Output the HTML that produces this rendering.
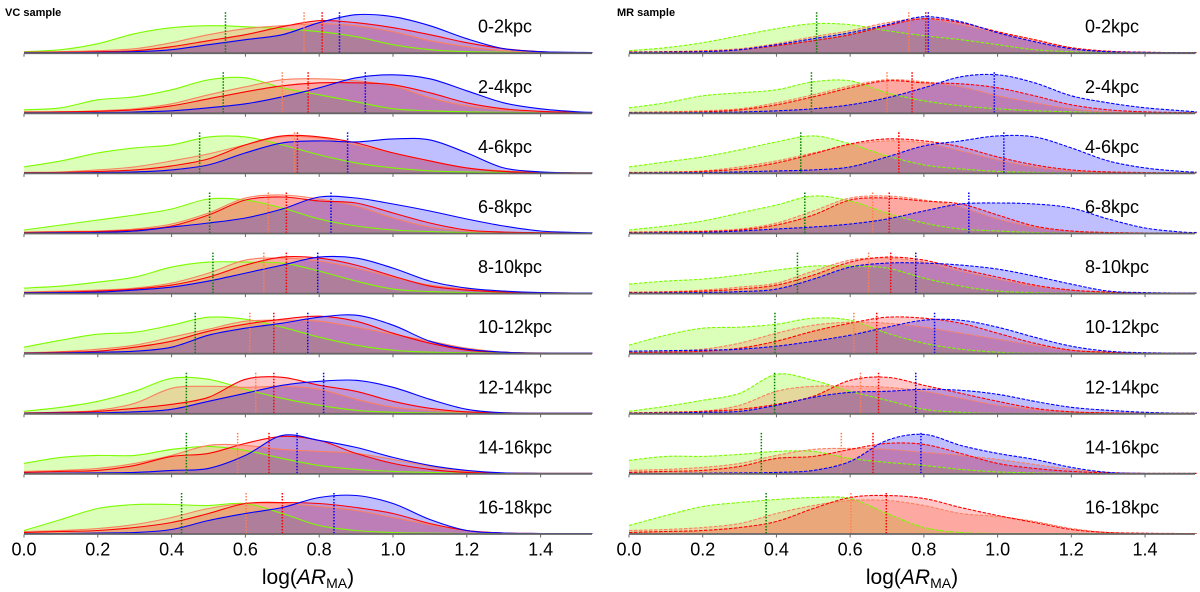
<!DOCTYPE html>
<html><head><meta charset="utf-8">
<style>
html,body{margin:0;padding:0;background:#fff;}
svg{display:block;font-family:"Liberation Sans","DejaVu Sans",sans-serif;}
</style></head>
<body>
<svg id="chart" width="1200" height="592" viewBox="0 0 1200 592" xmlns="http://www.w3.org/2000/svg">
<text x="5" y="16" font-size="11" font-weight="bold">VC sample</text>
<text x="617" y="16" font-size="11" font-weight="bold">MR sample</text>
</svg>
<script>
const xGrid = [0,0.1,0.2,0.3,0.4,0.5,0.6,0.7,0.8,0.9,1.0,1.1,1.2,1.3,1.4,1.5];
const rowLabels = ["0-2kpc","2-4kpc","4-6kpc","6-8kpc","8-10kpc","10-12kpc","12-14kpc","14-16kpc","16-18kpc"];
const tickLabels = ["0.0","0.2","0.4","0.6","0.8","1.0","1.2","1.4"];
const tickValues = [0,0.2,0.4,0.6,0.8,1.0,1.2,1.4];

// VC sample densities (heights in px-units), per row
const vcGreen = [
[1,3,9,19,25,27,26,24,21,16,8,3,1,0.5,0,0],
[3,5,13,16,23,33,35,25,18,11,4,2,1,0.5,0,0],
[6,12,20,25,28,36,36,28,18,10,5,2,1,0.5,0,0],
[3,8,13,18,24,34,33,25,14,7,3,1.5,0.5,0,0,0],
[5,7,11,16,26,31,31,30,22,12,4,1.5,0.5,0,0,0],
[6,13,19,21,28,36,34,26,16,8,3,1,0.5,0,0,0],
[2,6,12,22,35,34,24,15,8,3,1,0.5,0,0,0,0],
[10,16,18,18,24,27,23,15,8,4,2,1,0,0,0,0],
[3,14,25,29,29,28,30,20,8,3,1,0.3,0,0,0,0]];
const vcOrange = [
[0.5,1,2,4,10,18,24,27,29,27,21,12,6,2,0.5,0],
[1,1,2,4,9,18,26,33,34,32,27,15,7,3,1,0],
[0.5,1,3,6,12,19,28,36,35,28,20,12,5,2,0.5,0],
[1,1.5,2,4,9,20,35,38,34,27,15,6,2,0.5,0,0],
[1,2,3,5,10,20,33,35,32,25,16,8,4,1,0.3,0],
[0.5,1.5,4,8,16,24,32,33,32,26,19,12,5,1,0.3,0],
[0.5,1,3,10,25,27,26,27,24,14,6,3,1,0.5,0,0],
[2,3,5,10,18,28,28,24,22,20,14,7,2,0.5,0,0],
[2,3,5,9,16,25,30,30,27,23,16,9,3,0.5,0,0]];
const vcRed = [
[0.3,0.5,1,2,6,12,18,26,32,30,25,18,10,4,1,0],
[0.5,1,1.5,3,7,14,21,27,30,30,28,20,10,4,1.5,0.5],
[0.3,0.5,1.5,3,7,14,28,37,36,30,20,12,5,1.5,0.5,0],
[0.5,1,1.5,3,7,18,33,36,32,30,20,10,3,1,0.3,0],
[0.5,1,2,4,8,16,28,36,35,28,17,7,3,1,0.3,0],
[0.3,1,2,6,12,22,29,34,37,32,20,10,3,1,0,0],
[0.3,1,2,5,9,16,34,36,28,22,12,5,1.5,0.5,0,0],
[1,2,3,8,17,20,30,37,33,20,10,4,1,0.3,0,0],
[1,2,3,6,11,20,30,31,30,26,20,10,3,0.5,0,0]];
const vcBlue = [
[0,0,0.3,1,3,8,13,18,30,38,36,27,14,4,1,0.3],
[0,0,0.3,0.8,2,5,9,16,25,35,38,34,22,10,4,1],
[0,0,0.3,1,3,8,20,30,32,31,34,33,20,5,1,0],
[0,0.3,0.6,2,6,10,15,24,36,35,29,22,14,7,2,0.5],
[0.3,0.5,1,3,6,12,20,28,36,35,25,12,5,2,0.5,0],
[0,0.3,1,2,6,18,25,30,36,38,28,12,4,1,0,0],
[0,0.2,0.5,1.5,4,12,20,28,32,33,26,14,4,0.5,0,0],
[0,0.2,0.5,1,3,5,18,38,33,26,16,8,3,0.5,0,0],
[0,0,0.5,1,4,13,20,26,36,38,30,14,3,0.5,0,0]];
const vcMedGreen = [0.546,0.54,0.476,0.503,0.512,0.464,0.44,0.44,0.427];
const vcMedOrange = [0.759,0.70,0.733,0.662,0.650,0.612,0.628,0.579,0.602];
const vcMedRed = [0.808,0.77,0.741,0.711,0.711,0.677,0.677,0.664,0.70];
const vcMedBlue = [0.855,0.925,0.877,0.832,0.796,0.769,0.812,0.740,0.84];

// MR sample densities
const mrGreen = [
[2,5,10,17,24,29,28,22,17,13,8,3,1,0,0,0],
[5,10,17,20,23,31,32,20,12,7,4,2,1,0,0,0],
[6,11,16,23,31,37,29,17,8,4,1.5,0.5,0,0,0,0],
[3,7,12,20,28,37,32,20,10,4,2,0.5,0,0,0,0],
[9,12,14,18,23,27,27,25,15,7,2,0.5,0,0,0,0],
[8,18,25,26,29,35,33,20,10,4,1,0,0,0,0,0],
[2,7,13,20,39,33,22,13,4,1,0,0,0,0,0,0],
[13,17,17,19,22,22,15,11,8,4,1.5,0.5,0,0,0,0],
[8,18,27,31,34,36,35,20,6,1,0,0,0,0,0,0]];
const mrOrange = [
[1,1,2,4,9,16,22,30,34,28,20,13,5,1.5,0.5,0],
[0.5,1,2,4,10,18,27,33,31,26,17,10,4,1,0.3,0],
[0.5,1,2,6,12,20,28,32,30,22,13,6,2,0.5,0,0],
[1,1.5,2,4,10,22,35,37,33,26,14,6,2,0.5,0,0],
[1,1.5,3,6,10,22,33,35,31,22,14,7,3,1,0,0],
[1,2,4,10,20,28,31,30,26,20,14,8,3,1,0,0],
[0.5,1,2,8,22,27,27,26,22,15,8,4,1.5,0.5,0,0],
[3,4,6,10,18,24,25,24,21,18,14,9,4,1,0,0],
[3,4,6,10,20,28,33,33,28,20,17,12,5,1,0,0]];
const mrRed = [
[0.5,1,1.5,3,7,12,18,27,34,30,21,13,5,1.5,0.5,0],
[0.3,0.5,1,3,8,16,25,32,30,29,25,17,8,3,1,0.3],
[0.3,0.5,1.5,4,10,19,29,34,32,26,16,8,3,1,0.3,0],
[0.5,1,1.5,3,8,18,33,35,32,29,18,7,2,0.5,0,0],
[0.5,1,2,4,8,18,31,36,33,24,16,8,3,1,0,0],
[0.5,1,2,5,12,22,30,36,35,30,20,10,3,1,0,0],
[0.3,1,2,4,9,17,33,36,28,20,12,5,1.5,0.5,0,0],
[1,2,3,7,15,17,24,30,29,20,10,5,2,0.5,0,0],
[1,2,3,6,12,25,36,38,35,26,18,11,4,1,0.3,0]];
const mrBlue = [
[0.3,0.5,1,3,8,14,20,28,36,31,20,11,4,1,0.3,0],
[0,0,0.3,0.8,2,4,8,15,25,36,38,30,17,10,5,2],
[0,0.2,0.4,1,2,3,6,16,27,32,37,36,25,12,5,1.5],
[0,0.3,0.6,2,4,6,9,14,22,29,30,29,25,14,5,1],
[0,0.3,0.6,1.5,4,14,26,30,30,28,24,17,9,2,0.5,0],
[2,2.5,3,4,7,12,18,26,33,33,26,16,7,2,0.5,0],
[0,0.3,1,2,8,16,21,22,24,23,19,12,6,3,1,0],
[0,0,0.2,0.5,1,3,12,33,39,28,20,14,6,1,0,0],
null];
const mrMedGreen = [0.509,0.495,0.466,0.477,0.457,0.396,0.395,0.359,0.372];
const mrMedOrange = [0.759,0.70,0.732,0.661,0.65,0.61,0.628,0.576,0.602];
const mrMedRed = [0.805,0.768,0.732,0.706,0.71,0.672,0.677,0.662,0.698];
const mrMedBlue = [0.812,0.991,1.017,0.922,0.778,0.829,0.778,0.792,null];

const NS = "http://www.w3.org/2000/svg";
const svg = document.getElementById("chart");
const ROW0 = 52.7, ROWSTEP = 60.1, XMAXD = 1.54;
const panels = [
 {name:"vc", x0:24, sc:369, xEnd:592, dashed:false, labelX:478, series:[vcGreen,vcOrange,vcRed,vcBlue], meds:[vcMedGreen,vcMedOrange,vcMedRed,vcMedBlue]},
 {name:"mr", x0:629, sc:368.6, xEnd:1195, dashed:true, labelX:1085, series:[mrGreen,mrOrange,mrRed,mrBlue], meds:[mrMedGreen,mrMedOrange,mrMedRed,mrMedBlue]}
];
const sNames = ["green","orange","red","blue"];
const lineCol = ["#7cfc00","#fa8060","#ff0000","#0000ff"];
const fillCol = ["rgba(124,252,0,0.28)","rgba(250,128,96,0.3)","rgba(255,0,0,0.22)","rgba(0,0,255,0.25)"];
const medCol = ["#008000","#ff7f50","#ff0000","#0000ff"];

function mk(tag, attrs){const e=document.createElementNS(NS,tag);for(const k in attrs)e.setAttribute(k,attrs[k]);return e;}
function rowBase(i){return ROW0+ROWSTEP*i;}

function curvePath(p, vals, base){
  const pts = xGrid.map((x,j)=>[p.x0+p.sc*x, base-vals[j]]);
  pts.push([p.x0+p.sc*XMAXD, base-vals[vals.length-1]*0.5]);
  let d = "M"+pts[0][0]+","+pts[0][1];
  for(let k=0;k<pts.length-1;k++){
    const p0=pts[Math.max(0,k-1)],p1=pts[k],p2=pts[k+1],p3=pts[Math.min(pts.length-1,k+2)];
    const c1=[p1[0]+(p2[0]-p0[0])/6, Math.min(base,p1[1]+(p2[1]-p0[1])/6)];
    const c2=[p2[0]-(p3[0]-p1[0])/6, Math.min(base,p2[1]-(p3[1]-p1[1])/6)];
    d+=" C"+c1[0].toFixed(1)+","+c1[1].toFixed(1)+" "+c2[0].toFixed(1)+","+c2[1].toFixed(1)+" "+p2[0].toFixed(1)+","+p2[1].toFixed(1);
  }
  return {d:d, first:pts[0], last:pts[pts.length-1]};
}

panels.forEach(p=>{
  for(let i=0;i<9;i++){
    const base=rowBase(i);
    const g=mk("g",{});
    
    
    svg.appendChild(g);
    p.series.forEach((ser,s)=>{
      if(!ser[i]) return;
      const c=curvePath(p, ser[i], base);
      const f=mk("path",{d:c.d+" L"+c.last[0]+","+base+" L"+c.first[0]+","+base+" Z", fill:fillCol[s], stroke:"none"});
      
      
      g.appendChild(f);
    });
    p.series.forEach((ser,s)=>{
      if(!ser[i]) return;
      const c=curvePath(p, ser[i], base);
      const l=mk("path",{d:c.d, fill:"none", stroke:lineCol[s], "stroke-width":"1.1"});
      if(p.dashed) l.setAttribute("stroke-dasharray","3.5,1.5");
      
      
      g.appendChild(l);
    });
    p.meds.forEach((m,s)=>{
      if(m[i]==null) return;
      const x=p.x0+p.sc*m[i];
      const ml=mk("line",{x1:x,x2:x,y1:base,y2:base-42,stroke:medCol[s],"stroke-width":"1.5","stroke-dasharray":"1.5,1.5"});
      
      
      g.appendChild(ml);
    });
    const bl=mk("line",{x1:p.x0,x2:p.xEnd,y1:base+0.5,y2:base+0.5,stroke:"#666","stroke-width":"1.8"});
    
    
    g.appendChild(bl);
    tickValues.forEach(t=>{
      const x=p.x0+p.sc*t;
      const tk=mk("line",{x1:x,x2:x,y1:base+1,y2:base+4,stroke:"#666","stroke-width":"1"});
      
      
      g.appendChild(tk);
    });
    const lab=mk("text",{x:p.labelX,y:base-20,"font-size":"18",fill:"#000"});
    lab.textContent=rowLabels[i];
    
    
    svg.appendChild(lab);
  }
  const lastBase=rowBase(8);
  tickLabels.forEach((t,k)=>{
    const x=p.x0+p.sc*tickValues[k];
    const tl=mk("text",{x:x,y:lastBase+22,"font-size":"18","text-anchor":"middle",fill:"#000"});
    tl.textContent=t;
    
    
    svg.appendChild(tl);
  });
  const title=mk("text",{x:(p.x0+p.xEnd)/2,y:584,"font-size":"21","text-anchor":"middle",fill:"#000"});
  title.innerHTML='log(<tspan font-style="italic">AR</tspan><tspan font-size="14" dy="4">MA</tspan><tspan dy="-4">)</tspan>';
  
  
  svg.appendChild(title);
});
</script>
</body></html>
